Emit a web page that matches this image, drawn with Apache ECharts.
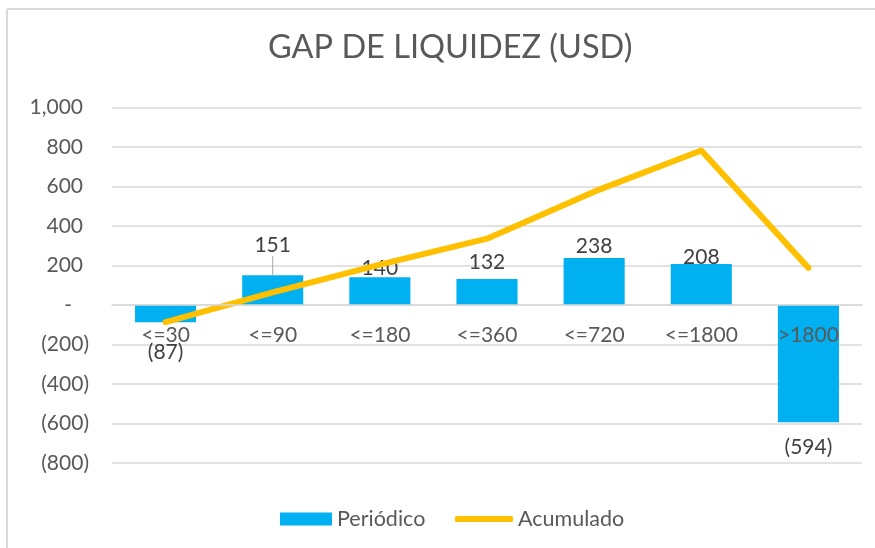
<!DOCTYPE html>
<html>
<head>
<meta charset="utf-8">
<script src="https://cdn.jsdelivr.net/npm/echarts@6/dist/echarts.min.js"></script>
<style>html,body{margin:0;padding:0;background:#fff}#c{width:875px;height:548px}</style>
</head>
<body>
<div id="c"></div>
<script>
const categories = ['<=30', '<=90', '<=180', '<=360', '<=720', '<=1800', '>1800'];
const periodico = [-87, 151, 140, 132, 238, 208, -594];
const acumulado = [-87, 64, 204, 336, 574, 782, 188];
const yTicks = { min: -800, max: 1000, interval: 200 };

const FONT = 'Lato, "Open Sans", sans-serif';
const labelShift = [18, -17, 3, -4, 1, 6, 12];

function fmt(v) {
  const a = Math.abs(v).toLocaleString('en-US');
  return v < 0 ? '(' + a + ')' : a;
}

const gridTop = 107.5, gridBottom = 85, chartH = 548;
const plotH = chartH - gridTop - gridBottom;
const zeroFromBottom = plotH * (0 - yTicks.min) / (yTicks.max - yTicks.min);

const chart = echarts.init(document.getElementById('c'));
chart.setOption({
  animation: false,
  backgroundColor: '#fff',
  title: {
    text: 'GAP DE LIQUIDEZ (USD)',
    left: 263, top: 26,
    textStyle: { fontFamily: FONT, fontSize: 32.5, fontWeight: 'normal', color: '#595959' }
  },
  graphic: [
    { type: 'line', shape: { x1: 7, y1: 9, x2: 875, y2: 9 }, style: { stroke: '#d9d9d9', lineWidth: 2 } },
    { type: 'line', shape: { x1: 7, y1: 9, x2: 7, y2: 548 }, style: { stroke: '#d9d9d9', lineWidth: 2 } }
  ],
  legend: [
    {
      top: 503, left: 275,
      itemWidth: 52, itemHeight: 13,
      textStyle: { fontFamily: FONT, fontSize: 21.5, color: '#595959' },
      data: [{ name: 'Periódico', icon: 'rect' }]
    },
    {
      top: 503, left: 450,
      itemWidth: 58, itemHeight: 6,
      textStyle: { fontFamily: FONT, fontSize: 21.5, color: '#595959' },
      data: [{ name: 'Acumulado', icon: 'roundRect', itemStyle: { color: '#FFC000' } }]
    }
  ],
  grid: { left: 112, right: 13, top: gridTop, bottom: gridBottom },
  xAxis: {
    type: 'category',
    data: categories,
    offset: -zeroFromBottom,
    z: 5,
    axisLine: { onZero: false, lineStyle: { color: '#d9d9d9', width: 1.5 } },
    axisTick: { show: false },
    axisLabel: { margin: 20, fontFamily: FONT, fontSize: 21, color: '#595959' }
  },
  yAxis: {
    type: 'value',
    min: yTicks.min, max: yTicks.max, interval: yTicks.interval,
    axisLine: { show: false }, axisTick: { show: false },
    splitLine: { lineStyle: { color: '#d9d9d9', width: 1.5 } },
    axisLabel: {
      margin: 23,
      formatter: function (v) {
        if (v === 0) return '{z|-}';
        if (v < 0) return '{n|' + fmt(v) + '}';
        return '{p|' + fmt(v) + '}';
      },
      rich: {
        z: { fontFamily: FONT, fontSize: 21, color: '#595959', padding: [0, 17, 0, 0] },
        n: { fontFamily: FONT, fontSize: 21, color: '#595959' },
        p: { fontFamily: FONT, fontSize: 21, color: '#595959', padding: [0, 6, 0, 0] }
      }
    }
  },
  series: [
    {
      name: 'Periódico',
      type: 'bar',
      barWidth: '57%',
      itemStyle: { color: '#00B0F0' },
      data: periodico.map(function (v, i) {
        return {
          value: v,
          label: { position: v < 0 ? 'bottom' : 'top' },
          labelLine: { show: i === 1, lineStyle: { color: '#a6a6a6', width: 1 } }
        };
      }),
      label: {
        show: true, distance: 2,
        fontFamily: FONT, fontSize: 21, color: '#404040',
        formatter: function (p) { return fmt(p.value); }
      },
      labelLayout: function (p) { return { dy: labelShift[p.dataIndex] }; },
      z: 2
    },
    {
      name: 'Acumulado',
      type: 'line',
      data: acumulado,
      symbol: 'none',
      lineStyle: { color: '#FFC000', width: 6, cap: 'round', join: 'round' },
      itemStyle: { color: '#FFC000' },
      z: 3
    }
  ]
});
</script>
</body>
</html>
